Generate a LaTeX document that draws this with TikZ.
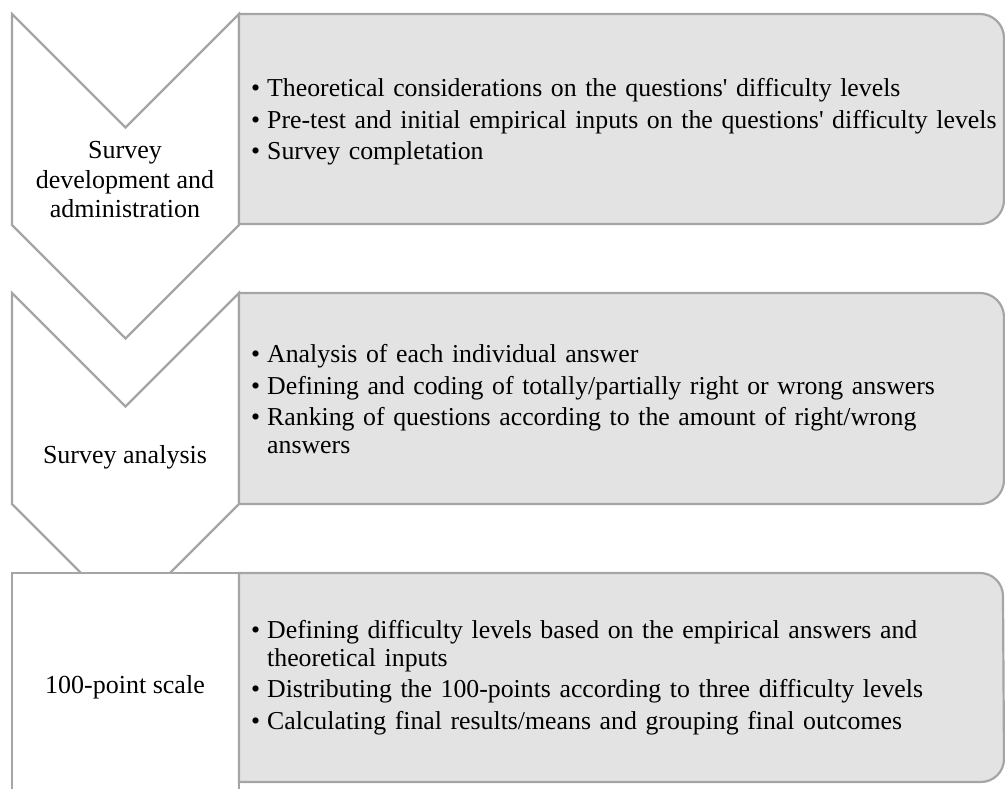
\documentclass[tikz,border=0pt]{standalone}
\usepackage{fontspec}
\setmainfont{Liberation Serif}[Ligatures=TeXOff]
\definecolor{linegray}{HTML}{A5A5A5}
\definecolor{boxfill}{HTML}{E3E3E3}
\newcommand\blitem[1]{\hangindent=16pt\hangafter=1\noindent\makebox[16pt][l]{\textbullet}#1\par}
\begin{document}
\begin{tikzpicture}[x=1pt,y=-1pt,
  chev/.style={draw=linegray,fill=white,line width=2.2pt,line join=miter},
  listbox/.style={draw=linegray,fill=boxfill,line width=2.2pt},
  steptext/.style={align=center,inner sep=0pt,font=\fontsize{26}{29.5}\selectfont},
  itemtext/.style={anchor=north west,inner sep=0pt,text width=770pt,align=left,font=\fontsize{25.8}{27.5}\selectfont}
]
\useasboundingbox (0,0) rectangle (1005,789);
\clip (0,0) rectangle (1005,789);
% step 1
\draw[chev] (12,14) -- (125.5,127.5) -- (239,14) -- (239,225) -- (125.5,338.5) -- (12,225) -- cycle;
\draw[listbox] (239,14) -- (980,14) arc[start angle=-90,end angle=0,radius=24] -- (1004,200) arc[start angle=0,end angle=90,radius=24] -- (239,224) -- cycle;
% step 2
\draw[chev] (12,293) -- (125.5,406.5) -- (239,293) -- (239,504) -- (125.5,617.5) -- (12,504) -- cycle;
\draw[listbox] (239,293) -- (980,293) arc[start angle=-90,end angle=0,radius=24] -- (1004,480) arc[start angle=0,end angle=90,radius=24] -- (239,504) -- cycle;
% step 3
\draw[chev] (12,800) -- (12,573) -- (239,573) -- (239,800);
\draw[listbox] (239,573) -- (980,573) arc[start angle=-90,end angle=0,radius=23] -- (1004,759) arc[start angle=0,end angle=90,radius=23] -- (239,782) -- cycle;
% step labels
\node[steptext] (s1) at (125,180) {Survey\\development and\\administration};
\node[steptext,anchor=base] (s2) at (125,463) {Survey analysis};
\node[steptext,anchor=base] (s3) at (125,693) {100-point scale};
% item texts
\node[itemtext] (t1) at (251,78.5) {\setlength{\parskip}{4pt}%
\blitem{Theoretical considerations on the questions' difficulty levels}
\blitem{Pre-test and initial empirical inputs on the questions' difficulty levels}
\blitem{Survey completation}};
\node[itemtext] (t2) at (251,344.5) {\setlength{\parskip}{4pt}%
\blitem{Analysis of each individual answer}
\blitem{Defining and coding of totally/partially right or wrong answers}
\blitem{Ranking of questions according to the amount of right/wrong\newline answers}};
\node[itemtext] (t3) at (251,620.5) {\setlength{\parskip}{4pt}%
\blitem{Defining difficulty levels based on the empirical answers and\newline theoretical inputs}
\blitem{Distributing the 100-points according to three difficulty levels}
\blitem{Calculating final results/means and grouping final outcomes}};
\end{tikzpicture}
\end{document}
